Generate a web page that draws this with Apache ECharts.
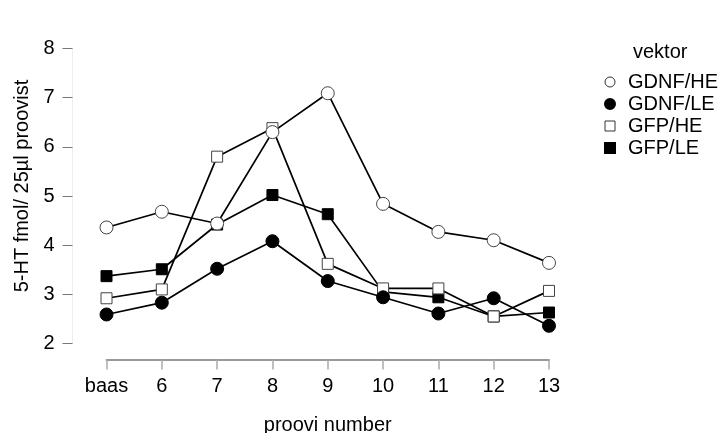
<!DOCTYPE html>
<html>
<head>
<meta charset="utf-8">
<script src="https://cdn.jsdelivr.net/npm/echarts@6/dist/echarts.min.js"></script>
<style>html,body{margin:0;padding:0;background:#fff}#c{width:718px;height:433px}</style>
</head>
<body>
<div id="c"></div>
<script>
const categories = ['baas', '6', '7', '8', '9', '10', '11', '12', '13'];
const gdnfHE = [4.36, 4.68, 4.44, 6.30, 7.09, 4.84, 4.27, 4.10, 3.64];
const gdnfLE = [2.59, 2.83, 3.52, 4.08, 3.27, 2.94, 2.61, 2.92, 2.36];
const gfpHE  = [2.92, 3.10, 5.80, 6.38, 3.62, 3.12, 3.12, 2.55, 3.07];
const gfpLE  = [3.37, 3.51, 4.42, 5.02, 4.63, 3.05, 2.94, 2.55, 2.63];
const yTicks = [2, 3, 4, 5, 6, 7, 8];

const FONT = 'Liberation Sans, Arial, sans-serif';
const FS = 20;
function mk(name, data, symbol, filled, size) {
  return {
    name, type: 'line', data, symbol, symbolSize: size,
    lineStyle: { color: '#000', width: 1.7 },
    itemStyle: { color: filled ? '#000' : '#fff', borderColor: filled ? '#000' : '#444', borderWidth: 1 },
    emphasis: { disabled: true },
    animation: false
  };
}
const chart = echarts.init(document.getElementById('c'), null, { renderer: 'canvas' });
chart.setOption({
  backgroundColor: '#fff',
  animation: false,
  textStyle: { fontFamily: FONT },
  grid: { left: 106.5, right: 169, top: 48.5, bottom: 89.5, containLabel: false, outerBoundsMode: 'none' },
  title: {
    text: 'vektor', left: 633, top: 42, padding: 0,
    textStyle: { fontFamily: FONT, fontSize: FS, fontWeight: 'normal', color: '#000' }
  },
  legend: {
    orient: 'vertical', left: 604, top: 72, padding: 0,
    itemWidth: 10, itemHeight: 10, itemGap: 2,
    textStyle: { fontFamily: FONT, fontSize: FS, color: '#000', padding: [0, 0, 0, 8] },
    data: [
      { name: 'GDNF/HE', icon: 'circle', itemStyle: { color: '#fff', borderColor: '#333', borderWidth: 1 } },
      { name: 'GDNF/LE', icon: 'circle', itemStyle: { color: '#000', borderColor: '#000' } },
      { name: 'GFP/HE', icon: 'rect', itemStyle: { color: '#fff', borderColor: '#333', borderWidth: 1 } },
      { name: 'GFP/LE', icon: 'rect', itemStyle: { color: '#000', borderColor: '#000' } }
    ]
  },
  xAxis: {
    type: 'category', data: categories, boundaryGap: false, offset: 16,
    name: 'proovi number', nameLocation: 'middle', nameGap: 56,
    nameTextStyle: { fontFamily: FONT, fontSize: FS, color: '#000' },
    axisLine: { lineStyle: { color: '#999', width: 2 } },
    axisTick: { length: 10, lineStyle: { color: '#aaa', width: 1.5 } },
    axisLabel: { fontFamily: FONT, fontSize: FS, color: '#000', margin: 17, interval: 0 },
    splitLine: { show: false }
  },
  yAxis: {
    type: 'value', min: 2, max: 8, interval: 1, offset: 34,
    name: '5-HT fmol/ 25µl proovist', nameLocation: 'middle', nameGap: 39,
    nameTextStyle: { fontFamily: FONT, fontSize: FS, color: '#000', padding: [0, 0, 0, 20] },
    axisLine: { show: true, lineStyle: { color: '#eee', width: 1 } },
    axisTick: { show: true, length: 10, lineStyle: { color: '#777' } },
    axisLabel: { fontFamily: FONT, fontSize: FS, color: '#000', margin: 18,
      formatter: v => yTicks.includes(v) ? String(v) : '' },
    splitLine: { show: false }
  },
  series: [
    mk('GFP/LE', gfpLE, 'rect', true, 11),
    mk('GFP/HE', gfpHE, 'rect', false, 11),
    mk('GDNF/LE', gdnfLE, 'circle', true, 13),
    mk('GDNF/HE', gdnfHE, 'circle', false, 13)
  ]
});
</script>
</body>
</html>
